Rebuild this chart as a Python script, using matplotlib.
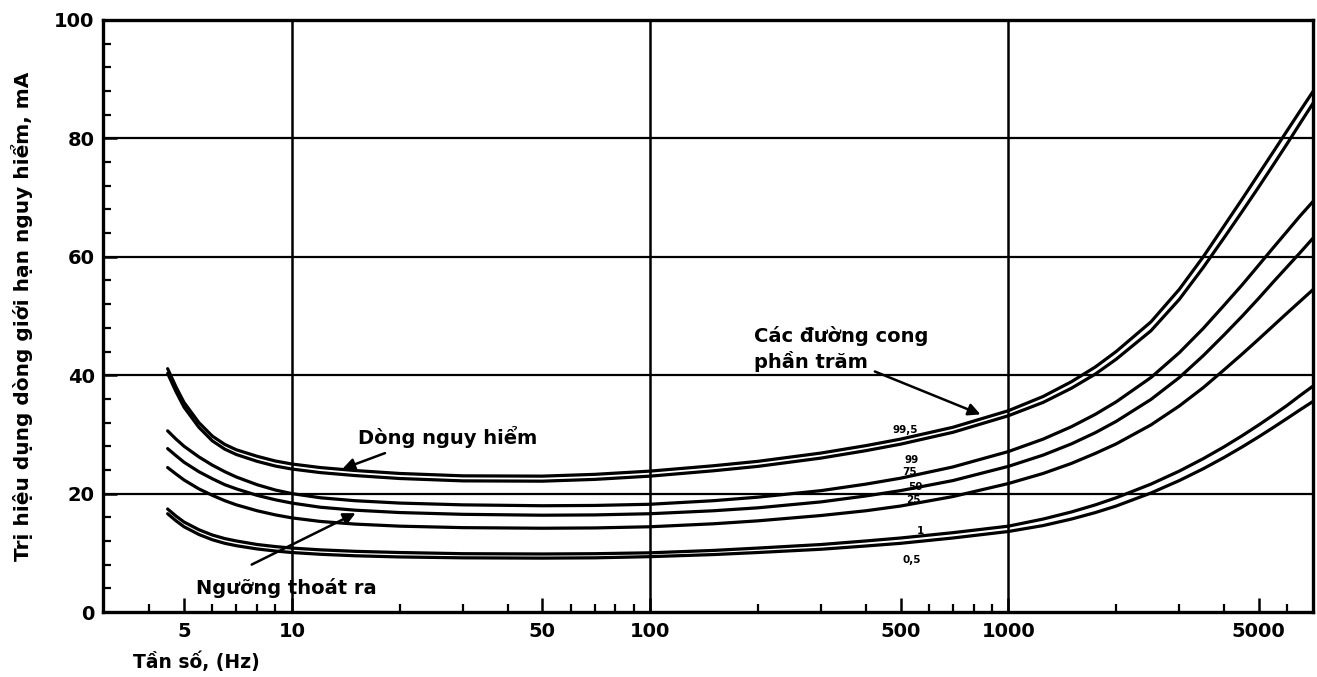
import matplotlib
matplotlib.use('Agg')
import matplotlib.pyplot as plt
from matplotlib.ticker import FixedLocator, NullFormatter, MultipleLocator

# ---------------- data ----------------
freq = [4.5, 4.75, 5, 5.5, 6, 6.5, 7, 8, 9, 10,
        12, 15, 20, 30, 50, 70, 100, 150, 200, 300,
        400, 500, 700, 1000, 1250, 1500, 1750, 2000, 2500, 3000,
        3500, 4000, 4500, 5000, 5500, 6000, 6500, 7100]

p99_5 = [41.1, 38.0, 35.4, 32.0, 29.7, 28.3, 27.4, 26.3, 25.5, 25.0,
         24.4, 23.9, 23.4, 23.0, 22.95, 23.25, 23.8, 24.7, 25.45, 26.85,
         28.1, 29.2, 31.2, 34.0, 36.4, 38.9, 41.4, 44.0, 49.0, 54.5,
         60.0, 65.2, 69.8, 74.0, 77.8, 81.3, 84.5, 88.0]
p99 = [40.3, 37.2, 34.6, 31.2, 28.9, 27.5, 26.6, 25.45, 24.65, 24.15,
       23.55, 23.05, 22.55, 22.15, 22.1, 22.4, 22.95, 23.85, 24.6, 26.0,
       27.25, 28.35, 30.35, 33.15, 35.4, 37.8, 40.2, 42.7, 47.5, 52.8,
       58.2, 63.2, 67.7, 71.8, 75.6, 79.1, 82.4, 86.0]
p75 = [30.6, 29.2, 28.0, 26.2, 24.8, 23.7, 22.8, 21.5, 20.6, 20.0,
       19.3, 18.8, 18.4, 18.1, 17.95, 18.0, 18.2, 18.8, 19.4, 20.5,
       21.6, 22.6, 24.5, 27.1, 29.2, 31.3, 33.4, 35.5, 39.6, 43.8,
       47.9, 51.8, 55.3, 58.6, 61.6, 64.3, 66.8, 69.4]
p50 = [27.6, 26.4, 25.3, 23.7, 22.5, 21.5, 20.8, 19.7, 18.95, 18.4,
       17.7, 17.2, 16.8, 16.5, 16.35, 16.4, 16.6, 17.1, 17.6, 18.6,
       19.6, 20.5, 22.2, 24.6, 26.5, 28.4, 30.3, 32.2, 35.9, 39.6,
       43.3, 46.8, 50.0, 53.0, 55.8, 58.3, 60.6, 63.2]
p25 = [24.4, 23.3, 22.3, 20.8, 19.7, 18.8, 18.1, 17.1, 16.4, 15.9,
       15.3, 14.85, 14.5, 14.25, 14.15, 14.2, 14.4, 14.9, 15.4, 16.3,
       17.1, 17.9, 19.5, 21.7, 23.4, 25.1, 26.8, 28.4, 31.6, 34.8,
       37.9, 40.9, 43.6, 46.1, 48.4, 50.5, 52.4, 54.5]
p1 = [17.4, 16.2, 15.2, 13.9, 13.0, 12.4, 12.0, 11.4, 11.05, 10.8,
      10.5, 10.25, 10.05, 9.85, 9.8, 9.85, 10.0, 10.4, 10.8, 11.4,
      12.0, 12.5, 13.4, 14.5, 15.7, 16.9, 18.1, 19.3, 21.6, 23.8,
      25.9, 27.9, 29.8, 31.6, 33.3, 34.9, 36.5, 38.2]
p0_5 = [16.6, 15.4, 14.4, 13.1, 12.2, 11.6, 11.2, 10.65, 10.3, 10.05,
        9.75, 9.5, 9.3, 9.15, 9.1, 9.15, 9.35, 9.7, 10.05, 10.6,
        11.15, 11.6, 12.5, 13.6, 14.6, 15.7, 16.8, 17.9, 20.1, 22.2,
        24.2, 26.1, 27.9, 29.6, 31.2, 32.7, 34.1, 35.6]

curve_names = ["99,5", "99", "75", "50", "25", "1", "0,5"]
label_freq = [515, 538, 530, 550, 543, 568, 538]
label_val = [30.7, 25.7, 23.7, 21.1, 18.9, 13.6, 8.8]

xtick_vals = [5, 10, 50, 100, 500, 1000, 5000]
xtick_labels = ["5", "10", "50", "100", "500", "1000", "5000"]
xminor_vals = [4, 6, 7, 8, 9, 20, 30, 40, 60, 70, 80, 90,
               200, 300, 400, 600, 700, 800, 900, 2000, 3000, 4000, 6000]
ytick_vals = [0, 20, 40, 60, 80, 100]
grid_x = [10, 100, 1000]
grid_y = [20, 40, 60, 80]

# ---------------- figure ----------------
plt.rcParams['font.family'] = ['DejaVu Sans']
plt.rcParams['font.weight'] = 'bold'

fig = plt.figure(figsize=(13.17, 6.77), dpi=100)
fig.patch.set_facecolor('white')
ax = fig.add_axes([0.0782, 0.096, 0.919, 0.8745])
ax.set_xscale('log')
ax.set_xlim(2.97, 7100)
ax.set_ylim(0, 100)

for gx in grid_x:
    ax.axvline(gx, color='black', lw=1.8, zorder=1)
for gy in grid_y:
    ax.axhline(gy, color='black', lw=1.6, zorder=1)

for vals in [p99_5, p99, p75, p50, p25, p1, p0_5]:
    ax.plot(freq, vals, color='black', lw=2.3, solid_capstyle='round',
            solid_joinstyle='round', zorder=3)

for name, fx, fy in zip(curve_names, label_freq, label_val):
    ax.text(fx, fy, name, fontsize=7.5, fontweight='bold', ha='center', va='center', zorder=4)

for sp in ax.spines.values():
    sp.set_linewidth(2.4)

ax.xaxis.set_major_locator(FixedLocator(xtick_vals))
ax.set_xticklabels(xtick_labels)
ax.xaxis.set_minor_locator(FixedLocator(xminor_vals))
ax.xaxis.set_minor_formatter(NullFormatter())
ax.set_yticks(ytick_vals)
ax.yaxis.set_minor_locator(MultipleLocator(4))
ax.tick_params(axis='both', which='major', direction='in', length=10, width=1.8,
               labelsize=14, top=False, right=False)
ax.tick_params(axis='x', which='major', pad=7)
ax.tick_params(axis='y', which='major', pad=6)
ax.tick_params(axis='both', which='minor', direction='in', length=6, width=1.6,
               top=False, right=False)

# annotations
ax.text(15.3, 29.6, "Dòng nguy hiểm", fontsize=14, fontweight='bold', ha='left', va='center')
ax.annotate('', xy=(13.6, 24.0), xytext=(18.5, 27.0),
            arrowprops=dict(arrowstyle='-|>', color='black', lw=1.8, mutation_scale=18))
ax.text(5.4, 4.05, "Ngưỡng thoát ra", fontsize=14, fontweight='bold', ha='left', va='center')
ax.annotate('', xy=(15.3, 16.9), xytext=(7.6, 7.8),
            arrowprops=dict(arrowstyle='-|>', color='black', lw=1.8, mutation_scale=18))
ax.text(195, 44.5, "Các đường cong\nphần trăm", fontsize=14, fontweight='bold',
        ha='left', va='center', linespacing=1.3)
ax.annotate('', xy=(850, 33.2), xytext=(417, 40.8),
            arrowprops=dict(arrowstyle='-|>', color='black', lw=1.8, mutation_scale=18))

fig.text(0.101, 0.022, "Tần số, (Hz)", fontsize=13.5, fontweight='bold', ha='left', va='center')
fig.text(0.0167, 0.533, "Trị hiệu dụng dòng giới hạn nguy hiểm, mA", fontsize=14.5,
         fontweight='bold', rotation=90, ha='center', va='center')

fig.savefig('out.png', dpi=100, facecolor='white')
